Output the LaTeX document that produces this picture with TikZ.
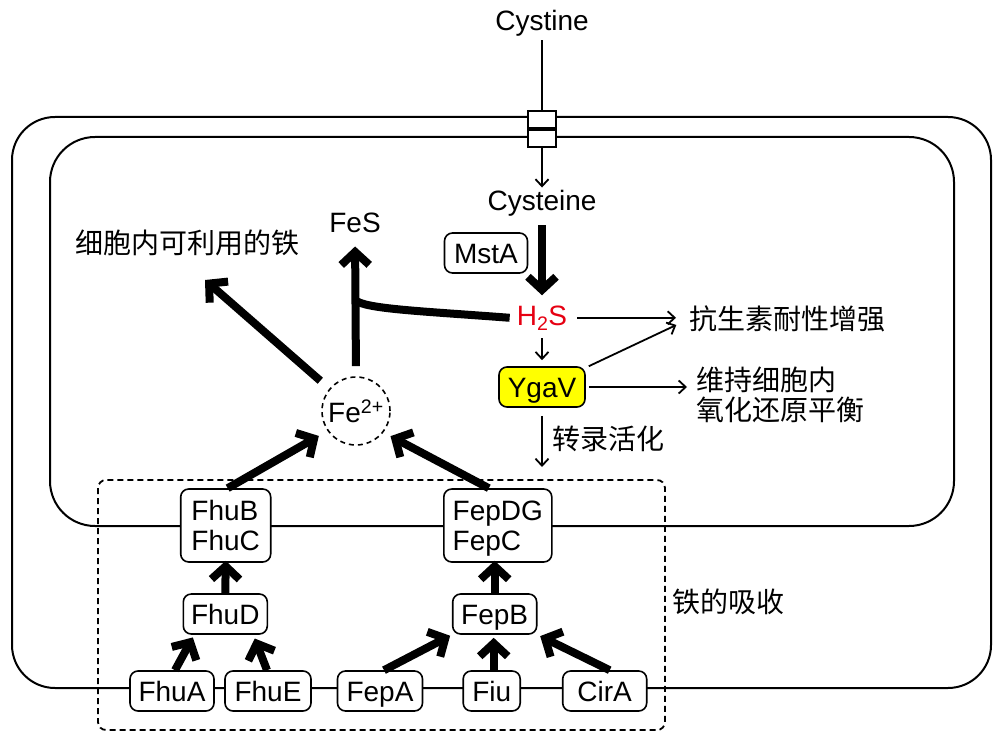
\documentclass[tikz,border=0pt]{standalone}
\usepackage{fontspec}
\setmainfont{Liberation Sans}
\newfontfamily\cjk{Noto Sans CJK SC}
\usetikzlibrary{arrows.meta,calc}
\definecolor{h2sred}{RGB}{230,0,18}
\definecolor{ygyellow}{RGB}{255,255,0}
\begin{document}
\begin{tikzpicture}[x=1pt,y=-1pt,
  lbl/.style={font=\fontsize{28}{30}\selectfont, inner sep=0pt},
  cn/.style={font=\cjk\fontsize{28}{30}\selectfont, inner sep=0pt},
  box/.style={draw, line width=1.6pt, rounded corners=8pt, fill=white,
    font=\fontsize{28}{30}\selectfont, inner sep=0pt, minimum height=40pt,
    text height=20pt, text depth=0pt},
  mbox/.style={draw, line width=1.6pt, rounded corners=8pt, fill=white,
    font=\fontsize{28}{30}\selectfont, inner sep=0pt, minimum height=73pt,
    align=left},
  membrane/.style={line width=2pt},
  thinarr/.style={line width=1.8pt, -{Straight Barb[length=7pt,width=13pt]}},
  thickarr/.style={line width=8pt, -{Straight Barb[length=13pt,width=28pt,line cap=butt,line join=miter]}},
  thickline/.style={line width=8pt}
]
\useasboundingbox (0,0) rectangle (1000,743);
\fill[white] (0,0) rectangle (1000,743);

% membranes
\draw[membrane, rounded corners=43pt] (12,117) rectangle (991,688);
\draw[membrane, rounded corners=45pt] (50,137) rectangle (954,526);
% iron uptake region
\draw[line width=1.8pt, dash pattern=on 6pt off 4pt, rounded corners=8pt] (98,480) rectangle (665,730);

% transporter
\node[draw, fill=white, line width=1.6pt, minimum width=28pt, minimum height=36pt, inner sep=0pt] (tp) at (542,129) {};
\draw[line width=4pt] (tp.west) -- (tp.east);

% texts
\node[lbl, anchor=base] (cystine) at (542,31) {Cystine};
\node[lbl, anchor=base] (cysteine) at (542,211) {Cysteine};
\node[lbl, anchor=base] (fes) at (355,233) {FeS};
\node[cn] (use) at (187,243) {细胞内可利用的铁};
\node[box, minimum width=83pt] (msta) at (486,253) {MstA};
\node[lbl, anchor=base, text=h2sred] (h2s) at (542,325) {H\textsubscript{2}S};
\node[cn, anchor=west] (resist) at (689,319) {抗生素耐性增强};
\node[box, fill=ygyellow, minimum width=86pt] (ygav) at (542,387) {YgaV};
\node[cn, anchor=west, align=left] (redox) at (696,395) {维持细胞内\\氧化还原平衡};
\node[cn, anchor=west] (activ) at (552,439) {转录活化};
\node[cn, anchor=west] (uptake) at (672,602) {铁的吸收};
\node[circle, draw, line width=1.6pt, dash pattern=on 5pt off 4pt, minimum size=68pt, inner sep=0pt,
  font=\fontsize{28}{30}\selectfont] (fe) at (356,411) {Fe\textsuperscript{2+}};

% boxes
\node[mbox, minimum width=90pt, text depth=0pt] (fhub) at (225.7,525.5) {FhuB\\FhuC};
\node[mbox, minimum width=108pt, text depth=0pt] (fepdg) at (497.8,525.5) {FepDG\\FepC};
\node[box, minimum width=84pt] (fhud) at (225.3,614) {FhuD};
\node[box, minimum width=84pt] (fepb) at (494.7,614) {FepB};
\node[box, minimum width=84pt] (fhua) at (172,691) {FhuA};
\node[box, minimum width=86pt] (fhue) at (268,691) {FhuE};
\node[box, minimum width=85pt] (fepa) at (380,691) {FepA};
\node[box, minimum width=57pt] (fiu) at (491.7,691) {Fiu};
\node[box, minimum width=84pt] (cira) at (604.7,691) {CirA};

\coordinate (jn) at (355,300);
\coordinate (usetip) at (205,280);
\coordinate (acttip) at (542,467);

% connectors
\draw[line width=1.8pt, shorten <=3pt] (cystine.south) -- (tp.north);
\draw[thinarr, shorten >=3pt] (tp.south) -- (cysteine.north);
\draw[thickarr, shorten <=8pt, shorten >=10pt] (cysteine.south) -- (h2s.north);
\draw[thickline] ([xshift=-7pt]h2s.west) .. controls (420,311) and (365,309) .. (jn);
\draw[thinarr, shorten <=8pt, shorten >=6pt] (h2s.south) -- (ygav.north);
\draw[thinarr, shorten <=10pt, shorten >=13pt] (h2s.east) -- (h2s.east -| resist.west);
\draw[thinarr, shorten >=14pt] ([xshift=3pt]ygav.north east) -- (resist.west);
\draw[thinarr, shorten <=3pt, shorten >=9pt] (ygav.east) -- (ygav.east -| redox.west);
\draw[thinarr, shorten <=8pt] (ygav.south) -- (acttip);

\draw[thickarr, shorten <=10pt, shorten >=13pt] (fe.north) -- (fes.south);
\draw[thickarr, shorten <=12pt] (fe.140) -- (usetip);
\draw[thickarr, shorten >=10pt] ([xshift=2pt]fhub.north) -- (fe.215);
\draw[thickarr, shorten >=8pt] ([xshift=-9pt]fepdg.north) -- (fe.-38);

\draw[thickarr, shorten >=-2pt] (fhud.north) -- (fhub.south);
\draw[thickarr, shorten >=-2pt] (fepb.north) -- (fepb.north |- fepdg.south);
\draw[thickarr, shorten >=3pt] ([xshift=3pt]fhua.north) -- ([xshift=-31pt]fhud.south);
\draw[thickarr, shorten >=4pt] ([xshift=-1pt]fhue.north) -- ([xshift=28pt]fhud.south);
\draw[thickarr, shorten >=2pt] ([xshift=4pt]fepa.north) -- (fepb.south west);
\draw[thickarr, shorten >=3pt] ([xshift=2pt]fiu.north) -- ([xshift=2pt]fiu.north |- fepb.south);
\draw[thickarr, shorten >=3pt] ([xshift=5pt]cira.north) -- (fepb.south east);
\end{tikzpicture}
\end{document}
